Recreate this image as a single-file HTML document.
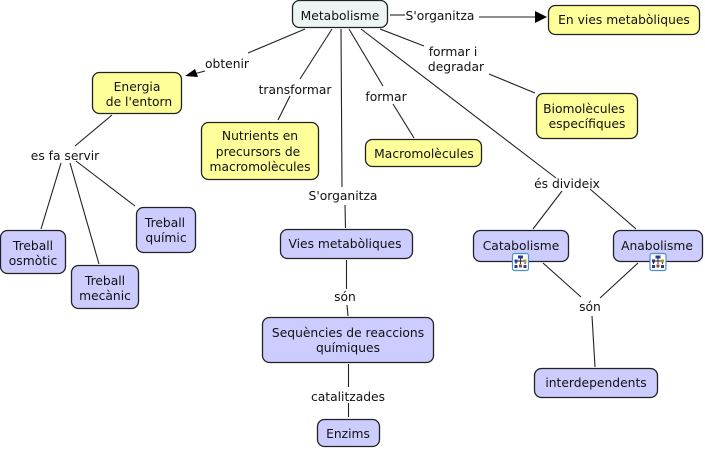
<!DOCTYPE html>
<html><head><meta charset="utf-8">
<style>
html,body{margin:0;padding:0;background:#fff;width:705px;height:449px;overflow:hidden}
svg{display:block}
text{font-family:"DejaVu Sans",sans-serif;font-size:12.3px;fill:#111;text-anchor:middle}
.l line{stroke:#222;stroke-width:1.1}
rect{stroke:#222;stroke-width:1.3}
.y{fill:#ffff99}.b{fill:#ccccff}.m{fill:#ecf4f4}
</style></head><body>
<svg width="705" height="449" viewBox="0 0 705 449" xmlns="http://www.w3.org/2000/svg">
<g class="l">
<line x1="305" y1="29" x2="248" y2="53"/>
<line x1="205" y1="71" x2="190" y2="75"/>
<line x1="332" y1="29" x2="300" y2="79"/>
<line x1="290" y1="96" x2="278" y2="120"/>
<line x1="341" y1="29" x2="342" y2="187"/>
<line x1="345" y1="205" x2="345.500" y2="228"/>
<line x1="349" y1="29" x2="383" y2="86"/>
<line x1="393" y1="104" x2="414" y2="138"/>
<line x1="361" y1="29" x2="556" y2="178"/>
<line x1="380" y1="29" x2="424" y2="46"/>
<line x1="489" y1="74" x2="535" y2="93"/>
<line x1="390" y1="15" x2="405" y2="15"/>
<line x1="479" y1="17" x2="537" y2="17"/>
<line x1="112" y1="115" x2="75" y2="146"/>
<line x1="61" y1="163" x2="41" y2="229"/>
<line x1="70" y1="163" x2="99" y2="264"/>
<line x1="76" y1="161" x2="135" y2="206"/>
<line x1="346.500" y1="260" x2="346.500" y2="289"/>
<line x1="347" y1="305" x2="348" y2="316"/>
<line x1="348.500" y1="364" x2="348.500" y2="387"/>
<line x1="348.500" y1="403" x2="348.500" y2="417"/>
<line x1="562" y1="191" x2="533" y2="229"/>
<line x1="590" y1="189" x2="636" y2="229"/>
<line x1="543" y1="263" x2="581" y2="297"/>
<line x1="638" y1="263" x2="600" y2="298"/>
<line x1="592" y1="316" x2="595" y2="367"/>
</g>
<polygon points="185,76 195,69 198,77" fill="#000"/>
<polygon points="547,17 535,11 535,23" fill="#000"/>

<rect class="m" x="292.500" y="0.500" width="95" height="27" rx="7"/>
<rect class="y" x="548.500" y="5.500" width="151" height="29" rx="7"/>
<rect class="y" x="92.500" y="72.500" width="89" height="41" rx="7"/>
<rect class="y" x="201.500" y="122.500" width="117" height="57" rx="7"/>
<rect class="y" x="365.500" y="139.500" width="116" height="27" rx="7"/>
<rect class="y" x="536.500" y="93.500" width="101" height="45" rx="7"/>
<rect class="b" x="136.500" y="207.500" width="59" height="45" rx="7"/>
<rect class="b" x="0.500" y="230.500" width="65" height="43" rx="7"/>
<rect class="b" x="71.500" y="265.500" width="67" height="43" rx="7"/>
<rect class="b" x="280.500" y="229.500" width="132" height="29" rx="7"/>
<rect class="b" x="262.500" y="317.500" width="171" height="45" rx="7"/>
<rect class="b" x="317.500" y="419.500" width="62" height="27" rx="7"/>
<rect class="b" x="473.500" y="230.500" width="95" height="31" rx="7"/>
<rect class="b" x="613.500" y="230.500" width="89" height="31" rx="7"/>
<rect class="b" x="534.500" y="368.500" width="123" height="29" rx="7"/>

<g>
<rect x="512.500" y="253.500" width="16" height="17" rx="2" fill="#fff" style="stroke:#4a90d0;stroke-width:1.200"/>
<path d="M520.500 258v6M516 261h9v3M516 261v3" fill="none" stroke="#222" stroke-width="0.900"/>
<rect x="518" y="255.500" width="5" height="3" fill="#2a3a90" style="stroke:none"/>
<rect x="514.500" y="259.500" width="3" height="3" fill="#2a3a90" style="stroke:none"/>
<rect x="523.500" y="259.500" width="3" height="3" fill="#a8a030" style="stroke:none"/>
<rect x="514.500" y="265" width="3" height="3" fill="#2a3a90" style="stroke:none"/>
<rect x="519" y="264.500" width="3" height="3" fill="#904830" style="stroke:none"/>
<rect x="523.500" y="265" width="3" height="3" fill="#2a3a90" style="stroke:none"/>
</g>
<g transform="translate(137.500,0)">
<rect x="512.500" y="253.500" width="16" height="17" rx="2" fill="#fff" style="stroke:#4a90d0;stroke-width:1.200"/>
<path d="M520.500 258v6M516 261h9v3M516 261v3" fill="none" stroke="#222" stroke-width="0.900"/>
<rect x="518" y="255.500" width="5" height="3" fill="#2a3a90" style="stroke:none"/>
<rect x="514.500" y="259.500" width="3" height="3" fill="#2a3a90" style="stroke:none"/>
<rect x="523.500" y="259.500" width="3" height="3" fill="#a8a030" style="stroke:none"/>
<rect x="514.500" y="265" width="3" height="3" fill="#2a3a90" style="stroke:none"/>
<rect x="519" y="264.500" width="3" height="3" fill="#904830" style="stroke:none"/>
<rect x="523.500" y="265" width="3" height="3" fill="#2a3a90" style="stroke:none"/>
</g>

<text x="340" y="20">Metabolisme</text>
<text x="624" y="24">En vies metabòliques</text>
<text x="137" y="91">Energia</text>
<text x="139" y="106">de l'entorn</text>
<text x="260" y="140">Nutrients en</text>
<text x="258" y="156">precursors de</text>
<text x="260" y="171">macromolècules</text>
<text x="424" y="158">Macromolècules</text>
<text x="584" y="113">Biomolècules</text>
<text x="587" y="128">específiques</text>
<text x="165" y="227">Treball</text>
<text x="166" y="242">químic</text>
<text x="33" y="250">Treball</text>
<text x="33" y="265">osmòtic</text>
<text x="105" y="285">Treball</text>
<text x="105" y="300">mecànic</text>
<text x="345" y="248">Vies metabòliques</text>
<text x="348" y="337">Sequències de reaccions</text>
<text x="348" y="352">químiques</text>
<text x="348" y="438">Enzims</text>
<text x="521" y="250">Catabolisme</text>
<text x="657" y="250">Anabolisme</text>
<text x="596" y="387">interdependents</text>

<text x="227" y="68">obtenir</text>
<text x="295" y="94">transformar</text>
<text x="386" y="101">formar</text>
<text x="343" y="200">S'organitza</text>
<text x="440" y="20">S'organitza</text>
<text x="453" y="56">formar i</text>
<text x="456" y="71">degradar</text>
<text x="65" y="160">es fa servir</text>
<text x="567" y="188">és divideix</text>
<text x="345" y="301">són</text>
<text x="348" y="401">catalitzades</text>
<text x="590" y="311">són</text>
</svg>
</body></html>
